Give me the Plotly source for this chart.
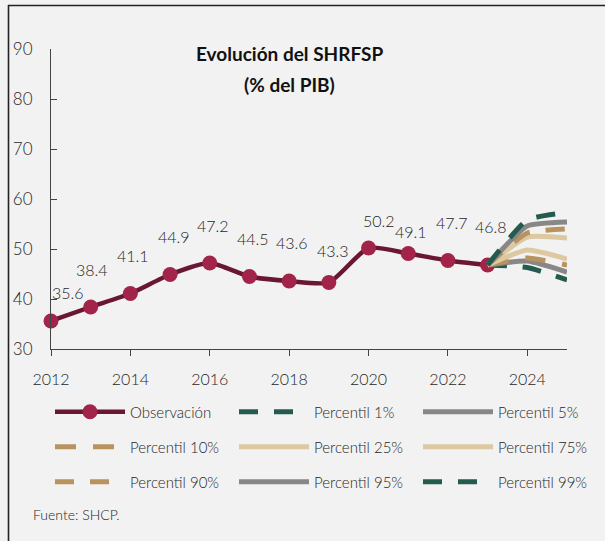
import plotly.graph_objects as go

years = [2012, 2013, 2014, 2015, 2016, 2017, 2018, 2019, 2020, 2021, 2022, 2023]
shrfsp = [35.6, 38.4, 41.1, 44.9, 47.2, 44.5, 43.6, 43.3, 50.2, 49.1, 47.7, 46.8]

fan_years = [2023, 2024, 2025]
p1 = [46.8, 46.3, 43.8]
p5 = [46.8, 47.6, 45.4]
p10 = [46.8, 48.2, 46.8]
p25 = [46.8, 49.8, 48.0]
p75 = [46.8, 52.4, 52.2]
p90 = [46.8, 53.2, 54.0]
p95 = [46.8, 54.6, 55.4]
p99 = [46.8, 55.8, 57.3]

x_ticks = [2012, 2014, 2016, 2018, 2020, 2022, 2024]
y_ticks = [30, 40, 50, 60, 70, 80, 90]

FONT = "Lato"
TXT = "#262626"
GREEN = "#245b4e"
GRAY = "#878787"
GOLD = "#b8925f"
SAND = "#dcc8a1"
MAROON_LINE = "#6a1733"
MAROON_MK = "#a2244b"

W, H = 605, 541
ML, MR, MT, MB = 51, 38, 49, 192

fig = go.Figure()

fig.add_trace(go.Scatter(
    x=years, y=shrfsp, name="Observación", mode="lines+markers",
    line=dict(color=MAROON_LINE, width=4.5, shape="spline", smoothing=0.6),
    marker=dict(color=MAROON_MK, size=15),
    cliponaxis=False, legend="legend",
))

fan = [
    ("Percentil 1%", p1, GREEN, "19px,16px", "legend"),
    ("Percentil 5%", p5, GRAY, "solid", "legend"),
    ("Percentil 10%", p10, GOLD, "21px,17px", "legend2"),
    ("Percentil 25%", p25, SAND, "solid", "legend2"),
    ("Percentil 75%", p75, SAND, "solid", "legend2"),
    ("Percentil 90%", p90, GOLD, "19px,16px", "legend3"),
    ("Percentil 95%", p95, GRAY, "solid", "legend3"),
    ("Percentil 99%", p99, GREEN, "19px,16px", "legend3"),
]
for name, vals, col, dash, lg in fan:
    fig.add_trace(go.Scatter(
        x=fan_years, y=vals, name=name, mode="lines",
        line=dict(color=col, width=5, dash=dash, shape="spline", smoothing=0.5),
        cliponaxis=False, legend=lg,
    ))

# data labels (pixel offsets are style only)
label_dx = [17, 1, 3, 4, 3, 4, 3, 4, 10, 3, 4, 3]
label_dy = [29, 38, 38, 38, 38, 38, 39, 32, 28, 22, 38, 39]
for i, (xv, yv) in enumerate(zip(years, shrfsp)):
    fig.add_annotation(
        x=xv, y=yv, text=f"{yv:.1f}", showarrow=False,
        xshift=label_dx[i], yshift=label_dy[i],
        font=dict(family=FONT, size=16, color=TXT, weight=300),
    )

def px_x(p):
    return (p - ML) / (W - ML - MR)

def px_y(p):
    return 1 - (p - MT) / (H - MT - MB)

fig.add_annotation(
    xref="paper", yref="paper", x=px_x(289), y=px_y(40),
    text="<b>Evolución del SHRFSP</b>", showarrow=False,
    font=dict(family=FONT, size=19, color="#111111"),
)
fig.add_annotation(
    xref="paper", yref="paper", x=px_x(289), y=px_y(71),
    text="<b>(% del PIB)</b>", showarrow=False,
    font=dict(family=FONT, size=19, color="#111111"),
)
fig.add_annotation(
    xref="paper", yref="paper", x=px_x(31), y=px_y(525), xanchor="left",
    text="Fuente: SHCP.", showarrow=False,
    font=dict(family=FONT, size=14, color=TXT, weight=300),
)

# outer frame of the original figure box
fig.add_shape(type="line", xref="paper", yref="paper",
              x0=px_x(8.5), x1=px_x(8.5), y0=px_y(5), y1=px_y(541),
              line=dict(color="#222222", width=1.6), layer="above")
fig.add_shape(type="line", xref="paper", yref="paper",
              x0=px_x(8), x1=px_x(605), y0=px_y(5.5), y1=px_y(5.5),
              line=dict(color="#222222", width=1.6), layer="above")

leg_common = dict(
    orientation="h", xanchor="left", yanchor="middle",
    font=dict(family=FONT, size=15, color=TXT, weight=300),
    bgcolor="rgba(0,0,0,0)", entrywidth=99, entrywidthmode="pixels",
    itemwidth=70, traceorder="normal",
)
fig.update_layout(
    width=W, height=H,
    margin=dict(l=ML, r=MR, t=MT, b=MB, autoexpand=False),
    paper_bgcolor="#f2f2f2", plot_bgcolor="#f2f2f2",
    showlegend=True,
    legend=dict(x=px_x(50), y=px_y(412), **leg_common),
    legend2=dict(x=px_x(50), y=px_y(447), **leg_common),
    legend3=dict(x=px_x(50), y=px_y(482), **leg_common),
    xaxis=dict(
        range=[2012, 2025], tickvals=x_ticks, ticktext=[str(v) for v in x_ticks],
        showgrid=False, zeroline=False, showline=True, linecolor="#444444", linewidth=1.2,
        ticks="outside", ticklen=6, tickcolor="#444444", ticklabelstandoff=10,
        tickfont=dict(family=FONT, size=16, color=TXT, weight=300),
    ),
    yaxis=dict(
        range=[30, 90], tickvals=y_ticks,
        showgrid=False, zeroline=False, showline=True, linecolor="#444444", linewidth=1.2,
        ticks="inside", ticklen=6, tickcolor="#444444", ticklabelstandoff=14,
        tickfont=dict(family=FONT, size=17, color=TXT, weight=300),
    ),
)

fig.write_html(
    "out.html",
    config={"displayModeBar": False},
    post_script="document.body.style.margin='0';document.body.style.background='#f2f2f2';",
)
